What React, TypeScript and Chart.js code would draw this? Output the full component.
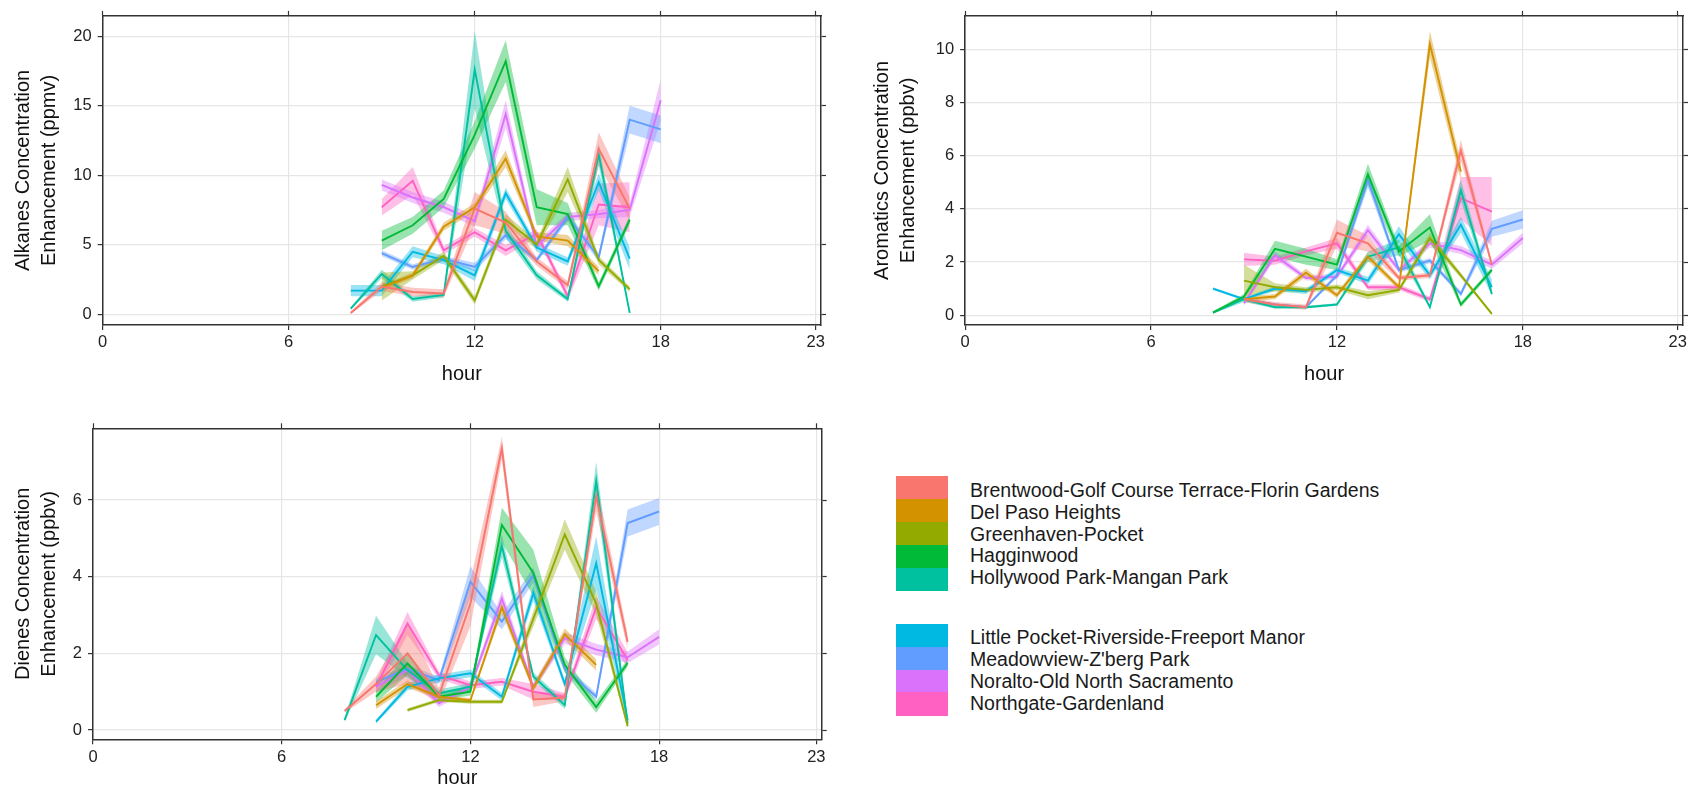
import React, { useEffect, useRef } from "react";
import { Chart, registerables } from "chart.js";
Chart.register(...registerables);

// ---------- data ----------
const HOURS = [8, 9, 10, 11, 12, 13, 14, 15, 16, 17, 18];
const X_TICKS = [0, 6, 12, 18, 23];

const SITES = [
  "Brentwood-Golf Course Terrace-Florin Gardens",
  "Del Paso Heights",
  "Greenhaven-Pocket",
  "Hagginwood",
  "Hollywood Park-Mangan Park",
  "Little Pocket-Riverside-Freeport Manor",
  "Meadowview-Z'berg Park",
  "Noralto-Old North Sacramento",
  "Northgate-Gardenland",
];
const COLORS = ["#F8766D", "#D39200", "#93AA00", "#00BA38", "#00C19F", "#00B9E3", "#619CFF", "#DB72FB", "#FF61C3"];

const ALK_TICKS = [0, 5, 10, 15, 20];
const ALK_MEAN: (number | null)[][] = [
  [0.1, 2.0, 1.6, 1.5, 7.6, 6.6, 3.8, 2.1, 11.9, 7.6, null],
  [null, 1.9, 2.8, 6.3, 7.7, 11.2, 5.6, 5.3, 3.1, null, null],
  [null, 2.0, 2.8, 4.2, 1.0, 6.8, 5.0, 9.7, 3.9, 1.8, null],
  [null, 5.3, 6.4, 8.3, 12.9, 18.2, 7.7, 7.2, 2.0, 6.8, null],
  [0.4, 2.9, 1.1, 1.4, 17.6, 6.0, 2.8, 1.1, 11.5, 0.1, null],
  [1.7, 1.7, 4.5, 3.9, 2.8, 8.7, 4.8, 3.8, 9.5, 4.0, null],
  [null, 4.4, 3.4, 4.0, 3.4, 5.7, 3.9, 7.0, 4.1, 14.0, 13.3],
  [null, 9.3, 8.4, 7.7, 6.7, 14.4, 4.9, 7.0, 7.2, 7.5, 15.4],
  [null, 7.7, 9.6, 4.6, 5.9, 4.6, 5.8, 1.3, 7.9, 7.7, null],
];
const ALK_CI: number[][] = [
  [0.1, 0.3, 0.3, 0.3, 1.2, 0.8, 0.3, 0.3, 1.2, 0.8, 0],
  [0, 0.2, 0.2, 0.3, 0.3, 0.6, 0.3, 0.4, 0.3, 0, 0],
  [0, 1.0, 0.3, 0.3, 0.3, 0.4, 0.3, 0.9, 0.3, 0.2, 0],
  [0, 0.7, 0.6, 0.6, 1.0, 1.5, 1.3, 0.8, 0.3, 0.3, 0],
  [0.1, 0.3, 0.2, 0.2, 2.8, 0.5, 0.3, 0.2, 0.8, 0.1, 0],
  [0.4, 0.4, 0.4, 0.3, 0.4, 0.4, 0.3, 0.3, 0.6, 0.8, 0],
  [0, 0.2, 0.2, 0.2, 0.3, 0.3, 0.2, 0.3, 0.3, 1.0, 1.0],
  [0, 0.4, 0.4, 0.4, 0.4, 1.0, 0.3, 0.3, 0.3, 0.5, 1.5],
  [0, 0.6, 1.0, 0.3, 0.3, 0.4, 0.3, 0.3, 1.5, 1.8, 0],
];

const ARO_TICKS = [0, 2, 4, 6, 8, 10];
const ARO_MEAN: (number | null)[][] = [
  [null, 0.6, 0.4, 0.3, 3.1, 2.7, 1.4, 1.5, 6.2, 1.9, null],
  [null, 0.6, 0.7, 1.6, 0.75, 2.2, 1.05, 10.2, 5.4, null, null],
  [null, 1.3, 1.05, 0.95, 1.05, 0.75, 0.95, 2.9, 1.5, 0.05, null],
  [0.1, 0.7, 2.5, 2.2, 1.9, 5.3, 2.4, 3.3, 0.4, 1.7, null],
  [0.1, 0.6, 0.3, 0.3, 0.4, 2.2, 2.55, 0.3, 4.7, 0.8, null],
  [1.0, 0.6, 1.0, 0.9, 1.7, 1.3, 3.05, 1.5, 3.4, 1.05, null],
  [null, 0.6, 0.4, 0.3, 1.5, 5.1, 1.7, 2.05, 0.8, 3.25, 3.6],
  [null, 0.45, 2.25, 1.4, 1.45, 3.2, 1.7, 2.7, 2.45, 1.9, 2.9],
  [null, 2.1, 2.05, 2.4, 2.7, 1.05, 1.05, 0.6, 4.4, 3.9, null],
];
const ARO_CI: number[][] = [
  [0, 0.1, 0.1, 0.1, 0.5, 0.3, 0.1, 0.1, 0.4, 0.1, 0],
  [0, 0.1, 0.1, 0.15, 0.1, 0.15, 0.1, 0.5, 0.35, 0, 0],
  [0, 0.6, 0.15, 0.1, 0.1, 0.15, 0.1, 0.2, 0.1, 0.05, 0],
  [0.05, 0.1, 0.3, 0.3, 0.2, 0.4, 0.2, 0.5, 0.1, 0.1, 0],
  [0.05, 0.1, 0.05, 0.05, 0.05, 0.2, 0.3, 0.05, 0.4, 0.1, 0],
  [0.05, 0.05, 0.1, 0.1, 0.1, 0.15, 0.3, 0.15, 0.3, 0.3, 0],
  [0, 0.05, 0.05, 0.05, 0.1, 0.3, 0.1, 0.1, 0.1, 0.3, 0.35],
  [0, 0.1, 0.15, 0.1, 0.1, 0.2, 0.1, 0.15, 0.15, 0.15, 0.2],
  [0, 0.25, 0.15, 0.15, 0.2, 0.1, 0.1, 0.1, 0.8, 1.3, 0],
];

const DIE_TICKS = [0, 2, 4, 6];
const DIE_MEAN: (number | null)[][] = [
  [0.5, 1.2, 2.0, 0.9, 3.3, 7.35, 0.8, 0.85, 6.1, 2.3, null],
  [null, 0.65, 1.2, 0.87, 0.78, 3.2, 1.1, 2.5, 1.7, null, null],
  [null, null, 0.52, 0.78, 0.74, 0.74, 2.9, 5.1, 3.3, 0.1, null],
  [null, 0.87, 1.74, 0.87, 1.0, 5.35, 4.1, 1.7, 0.6, 1.75, null],
  [0.26, 2.48, 1.56, 0.96, 1.13, 4.8, 1.4, 0.65, 6.5, 0.17, null],
  [null, 0.22, 1.13, 1.35, 1.48, 0.87, 3.57, 1.2, 4.35, 0.26, null],
  [null, 1.25, 1.6, 1.3, 3.87, 2.83, 4.04, 1.6, 0.87, 5.4, 5.7],
  [null, 1.13, 1.56, 0.7, 1.13, 3.43, 1.13, 2.4, 2.1, 1.9, 2.43],
  [null, 1.13, 2.78, 1.43, 1.17, 1.26, 1.0, 0.87, 3.2, 1.83, null],
];
const DIE_CI: number[][] = [
  [0.05, 0.2, 0.8, 0.2, 0.6, 0.3, 0.2, 0.1, 0.4, 0.2, 0],
  [0, 0.1, 0.1, 0.05, 0.05, 0.15, 0.1, 0.15, 0.15, 0, 0],
  [0, 0, 0.05, 0.05, 0.05, 0.05, 0.2, 0.4, 0.3, 0.05, 0],
  [0, 0.15, 0.3, 0.1, 0.1, 0.45, 0.6, 0.2, 0.15, 0.1, 0],
  [0.05, 0.5, 0.2, 0.1, 0.1, 0.3, 0.1, 0.1, 0.5, 0.1, 0],
  [0, 0.05, 0.1, 0.1, 0.1, 0.1, 0.2, 0.1, 0.7, 0.1, 0],
  [0, 0.1, 0.1, 0.1, 0.4, 0.2, 0.2, 0.1, 0.1, 0.35, 0.35],
  [0, 0.15, 0.15, 0.1, 0.1, 0.2, 0.1, 0.15, 0.15, 0.15, 0.2],
  [0, 0.15, 0.3, 0.1, 0.1, 0.1, 0.2, 0.1, 0.3, 0.2, 0],
];

// ---------- layout ----------
const FONT = "'Liberation Sans', Arial, Helvetica, sans-serif";
const XMAX = 23.17;

const PANELS = [
  {
    mean: ALK_MEAN, ci: ALK_CI, yTicks: ALK_TICKS, yMin: -0.77, yMax: 21.46,
    title: ["Alkanes Concentration", "Enhancement (ppmv)"],
    left: 0, top: 0, w: 845, h: 395,
    leftW: 102.7, rightW: 24, topH: 14.3, bottomH: 70, yTitlePad: 10, xTitlePad: 9,
  },
  {
    mean: ARO_MEAN, ci: ARO_CI, yTicks: ARO_TICKS, yMin: -0.37, yMax: 11.26,
    title: ["Aromatics Concentration", "Enhancement (ppbv)"],
    left: 845, top: 0, w: 845, h: 395,
    leftW: 120.1, rightW: 4.3, topH: 14, bottomH: 70, yTitlePad: 24, xTitlePad: 9,
  },
  {
    mean: DIE_MEAN, ci: DIE_CI, yTicks: DIE_TICKS, yMin: -0.24, yMax: 7.87,
    title: ["Dienes Concentration", "Enhancement (ppbv)"],
    left: 0, top: 400, w: 845, h: 398,
    leftW: 93, rightW: 23.3, topH: 28.3, bottomH: 58.7, yTitlePad: 10, xTitlePad: 8,
  },
];

function rgba(hex: string, a: number) {
  const n = parseInt(hex.slice(1), 16);
  return `rgba(${(n >> 16) & 255},${(n >> 8) & 255},${n & 255},${a})`;
}

const GRID_COLOR = "#E6E6E6";
const AXIS_COLOR = "#333333";

function makeChart(canvas: HTMLCanvasElement, p: any) {
  const datasets: any[] = [];
  p.mean.forEach((row: (number | null)[], i: number) => {
    const line: any[] = [], up: any[] = [], lo: any[] = [];
    row.forEach((v, j) => {
      if (v === null) return;
      const e = p.ci[i][j] || 0;
      line.push({ x: HOURS[j], y: v });
      up.push({ x: HOURS[j], y: v + e });
      lo.push({ x: HOURS[j], y: v - e });
    });
    datasets.push({
      data: up, fill: "+1", backgroundColor: rgba(COLORS[i], 0.4),
      borderColor: "rgba(0,0,0,0)", borderWidth: 0, pointRadius: 0, order: 1, tension: 0,
    });
    datasets.push({
      data: lo, fill: false, borderColor: "rgba(0,0,0,0)", borderWidth: 0, pointRadius: 0, order: 1, tension: 0,
    });
    datasets.push({
      data: line, fill: false, borderColor: COLORS[i], borderWidth: 1.9, pointRadius: 0, order: 0, tension: 0,
    });
  });

  const xTicks = (s: any) => { s.ticks = X_TICKS.map((v) => ({ value: v })); };
  const yTicks = (s: any) => { s.ticks = p.yTicks.map((v: number) => ({ value: v })); };
  const tickFont = { family: FONT, size: 16.5 };
  const border = { display: true, color: AXIS_COLOR, width: 1.5 };

  return new Chart(canvas, {
    type: "line",
    data: { datasets },
    options: {
      responsive: false,
      animation: false,
      events: [],
      layout: { padding: 0, autoPadding: false },
      plugins: { legend: { display: false }, tooltip: { enabled: false } },
      scales: {
        x: {
          type: "linear", position: "bottom", min: 0, max: XMAX,
          afterBuildTicks: xTicks,
          afterFit: (s: any) => { s.height = p.bottomH; },
          ticks: { font: tickFont, color: "#222", padding: 3, maxRotation: 0, autoSkip: false, callback: (v: any) => String(v) },
          grid: { color: GRID_COLOR, lineWidth: 1.2, tickColor: AXIS_COLOR, tickLength: 5, tickWidth: 1.2 },
          border,
          title: { display: true, text: "hour", font: { family: FONT, size: 20, lineHeight: 1.2 }, color: "#111", padding: { top: 0, bottom: p.xTitlePad } },
        },
        x2: {
          type: "linear", position: "top", min: 0, max: XMAX,
          afterBuildTicks: xTicks,
          afterFit: (s: any) => { s.height = p.topH; },
          ticks: { display: false },
          grid: { drawOnChartArea: false, tickColor: AXIS_COLOR, tickLength: 5, tickWidth: 1.2 },
          border,
        },
        y: {
          type: "linear", position: "left", min: p.yMin, max: p.yMax,
          afterBuildTicks: yTicks,
          afterFit: (s: any) => { s.width = p.leftW; },
          ticks: { font: tickFont, color: "#222", padding: 6, autoSkip: false, callback: (v: any) => String(v) },
          grid: { color: GRID_COLOR, lineWidth: 1.2, tickColor: AXIS_COLOR, tickLength: 5, tickWidth: 1.2 },
          border,
          title: { display: true, text: p.title, font: { family: FONT, size: 20, lineHeight: 1.3 }, color: "#111", padding: { top: p.yTitlePad, bottom: 0 } },
        },
        y2: {
          type: "linear", position: "right", min: p.yMin, max: p.yMax,
          afterBuildTicks: yTicks,
          afterFit: (s: any) => { s.width = p.rightW; },
          ticks: { display: false },
          grid: { drawOnChartArea: false, tickColor: AXIS_COLOR, tickLength: 5, tickWidth: 1.2 },
          border,
        },
      },
    } as any,
  });
}

const LEGEND_GROUP1 = [0, 1, 2, 3, 4];
const LEGEND_GROUP2 = [5, 6, 7, 8];

export default function App() {
  const refs = [useRef<HTMLCanvasElement>(null), useRef<HTMLCanvasElement>(null), useRef<HTMLCanvasElement>(null)];

  useEffect(() => {
    const charts = PANELS.map((p, i) => makeChart(refs[i].current as HTMLCanvasElement, p));
    return () => charts.forEach((c) => c.destroy());
  }, []);

  const legendItems: any[] = [];
  LEGEND_GROUP1.forEach((idx, k) => {
    legendItems.push({ idx, boxTop: 475.7 + k * 23, boxH: 23, textCenter: 490 + k * 21.8 });
  });
  LEGEND_GROUP2.forEach((idx, k) => {
    legendItems.push({ idx, boxTop: 624.3 + k * 22.7, boxH: 22.7, textCenter: 637 + k * 22 });
  });

  return (
    <div style={{ position: "absolute", left: 0, top: 0, width: 1690, height: 798, background: "#fff", overflow: "hidden", fontFamily: FONT }}>
      {PANELS.map((p, i) => (
        <canvas
          key={i}
          ref={refs[i]}
          width={p.w}
          height={p.h}
          style={{ position: "absolute", left: p.left, top: p.top, width: p.w, height: p.h }}
        />
      ))}
      {legendItems.map((it) => (
        <React.Fragment key={it.idx}>
          <div style={{ position: "absolute", left: 896, top: it.boxTop, width: 52, height: it.boxH + 0.5, background: COLORS[it.idx] }} />
          <div style={{ position: "absolute", left: 970, top: it.textCenter - 11, height: 22, lineHeight: "22px", fontSize: 19.5, color: "#1a1a1a", whiteSpace: "nowrap" }}>
            {SITES[it.idx]}
          </div>
        </React.Fragment>
      ))}
    </div>
  );
}
